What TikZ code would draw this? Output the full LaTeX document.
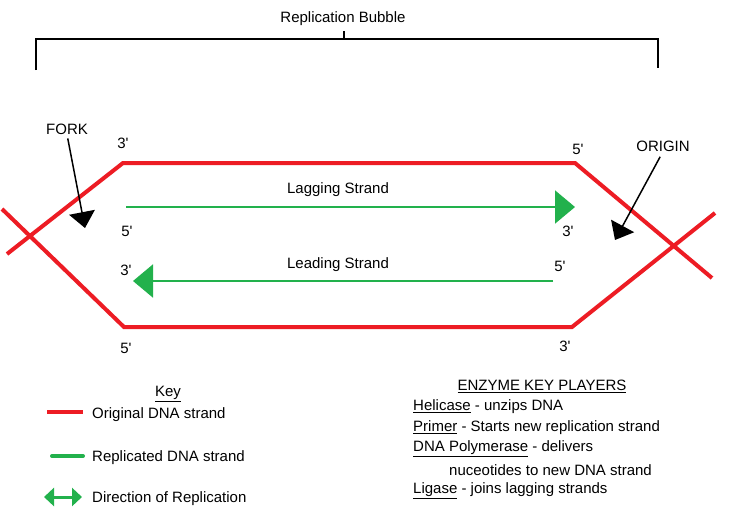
\documentclass[tikz,border=0pt]{standalone}
\usepackage{fontspec}
\setmainfont{Liberation Sans}
\usetikzlibrary{arrows.meta}
\definecolor{dnared}{RGB}{237,28,36}
\definecolor{dnagreen}{RGB}{34,177,76}
\newcommand{\pr}[1]{#1\textquotesingle}

\begin{document}
\begin{tikzpicture}[x=1pt,y=-1pt,
    every node/.style={inner sep=0pt,font=\fontsize{15}{18}\selectfont},
    redstrand/.style={draw=dnared,line width=4pt},
    greenstrand/.style={draw=dnagreen,line width=2pt},
    pointer/.style={draw=black,line width=1.5pt,-{Triangle[length=16pt,width=26pt]}},
    keytext/.style={anchor=west}]
            \path[use as bounding box,fill=white] (0,0) rectangle (729,515);

            % bracket over the bubble
            \draw (343,19) node (bubble) {Replication Bubble};
            \coordinate (bl) at (36,70);
            \coordinate (tl) at (36,39);
            \coordinate (tm) at (344,39);
            \coordinate (tr) at (658,39);
            \coordinate (br) at (658,68);
            \draw[line width=2pt] (bl) -- (tl) -- (tr) -- (br);
            \draw[line width=1.5pt] (tm) -- (344,31);

            % parent strands
            \coordinate (TL) at (123,163);
            \coordinate (TR) at (575,163);
            \coordinate (BL) at (124,327);
            \coordinate (BR) at (572,327);
            \coordinate (LU) at (7,254);
            \coordinate (LL) at (2,209);
            \coordinate (RD) at (712,278);
            \coordinate (RU) at (715,213);
            \draw[redstrand] (LU) -- (TL) -- (TR) -- (RD);
            \draw[redstrand] (LL) -- (BL) -- (BR) -- (RU);

            % new strands
            \coordinate (lagS) at (126,207);
            \coordinate (lagE) at (575,207);
            \coordinate (leadS) at (553,281);
            \coordinate (leadE) at (133,281);
            \draw[greenstrand,-{Triangle[length=20pt,width=33pt]}] (lagS) -- (lagE);
            \draw[greenstrand,-{Triangle[length=20pt,width=33pt]}] (leadS) -- (leadE);
            \draw (338,190) node (lag) {Lagging Strand};
            \draw (338,265) node (lead) {Leading Strand};

            % ends
            \draw (123,143) node (e1) {\pr{3}};
            \draw (578,149) node (e2) {\pr{5}};
            \draw (127,231) node (e3) {\pr{5}};
            \draw (568,231) node (e4) {\pr{3}};
            \draw (126,270) node (e5) {\pr{3}};
            \draw (560,266) node (e6) {\pr{5}};
            \draw (126,348) node (e7) {\pr{5}};
            \draw (565,346) node (e8) {\pr{3}};

            % fork and origin
            \draw (67,129) node (fork) {FORK};
            \coordinate (forktip) at (85,228);
            \draw[pointer,shorten <=4pt] (fork.south) -- (forktip);
            \draw (663,146) node (origin) {ORIGIN};
            \coordinate (origintip) at (615,240);
            \draw[pointer,shorten <=6pt] (origin.south) -- (origintip);

            % key
            \draw (168,394) node (key) {\underline{Key}};
            \coordinate (k1a) at (47,412);
            \coordinate (k1b) at (83,412);
            \draw[redstrand] (k1a) -- (k1b);
            \draw (92,415) node[keytext] (k1) {Original DNA strand};
            \coordinate (k2a) at (52,456);
            \coordinate (k2b) at (83,456);
            \draw[draw=dnagreen,line width=4pt,line cap=round] (k2a) -- (k2b);
            \draw (92,458) node[keytext] (k2) {Replicated DNA strand};
            \coordinate (k3a) at (44,497);
            \coordinate (k3b) at (82,497);
            \draw[draw=dnagreen,line width=3pt,
              {Triangle[length=10pt,width=18pt]}-{Triangle[length=10pt,width=18pt]}] (k3a) -- (k3b);
            \draw (92,499) node[keytext] (k3) {Direction of Replication};

            % enzymes
            \draw (542,386) node (enz) {\underline{ENZYME KEY PLAYERS}};
            \draw (413,407) node[keytext] (hel) {\underline{Helicase} - unzips DNA};
            \draw (413,428) node[keytext] (pri) {\underline{Primer} - Starts new replication strand};
            \draw (413,449) node[keytext] (pol) {\underline{DNA Polymerase} - delivers};
            \draw (449,470) node[keytext] (pol2) {nuceotides to new DNA strand};
            \draw (413,491) node[keytext] (lig) {\underline{Ligase} - joins lagging strands};
\end{tikzpicture}
\end{document}
